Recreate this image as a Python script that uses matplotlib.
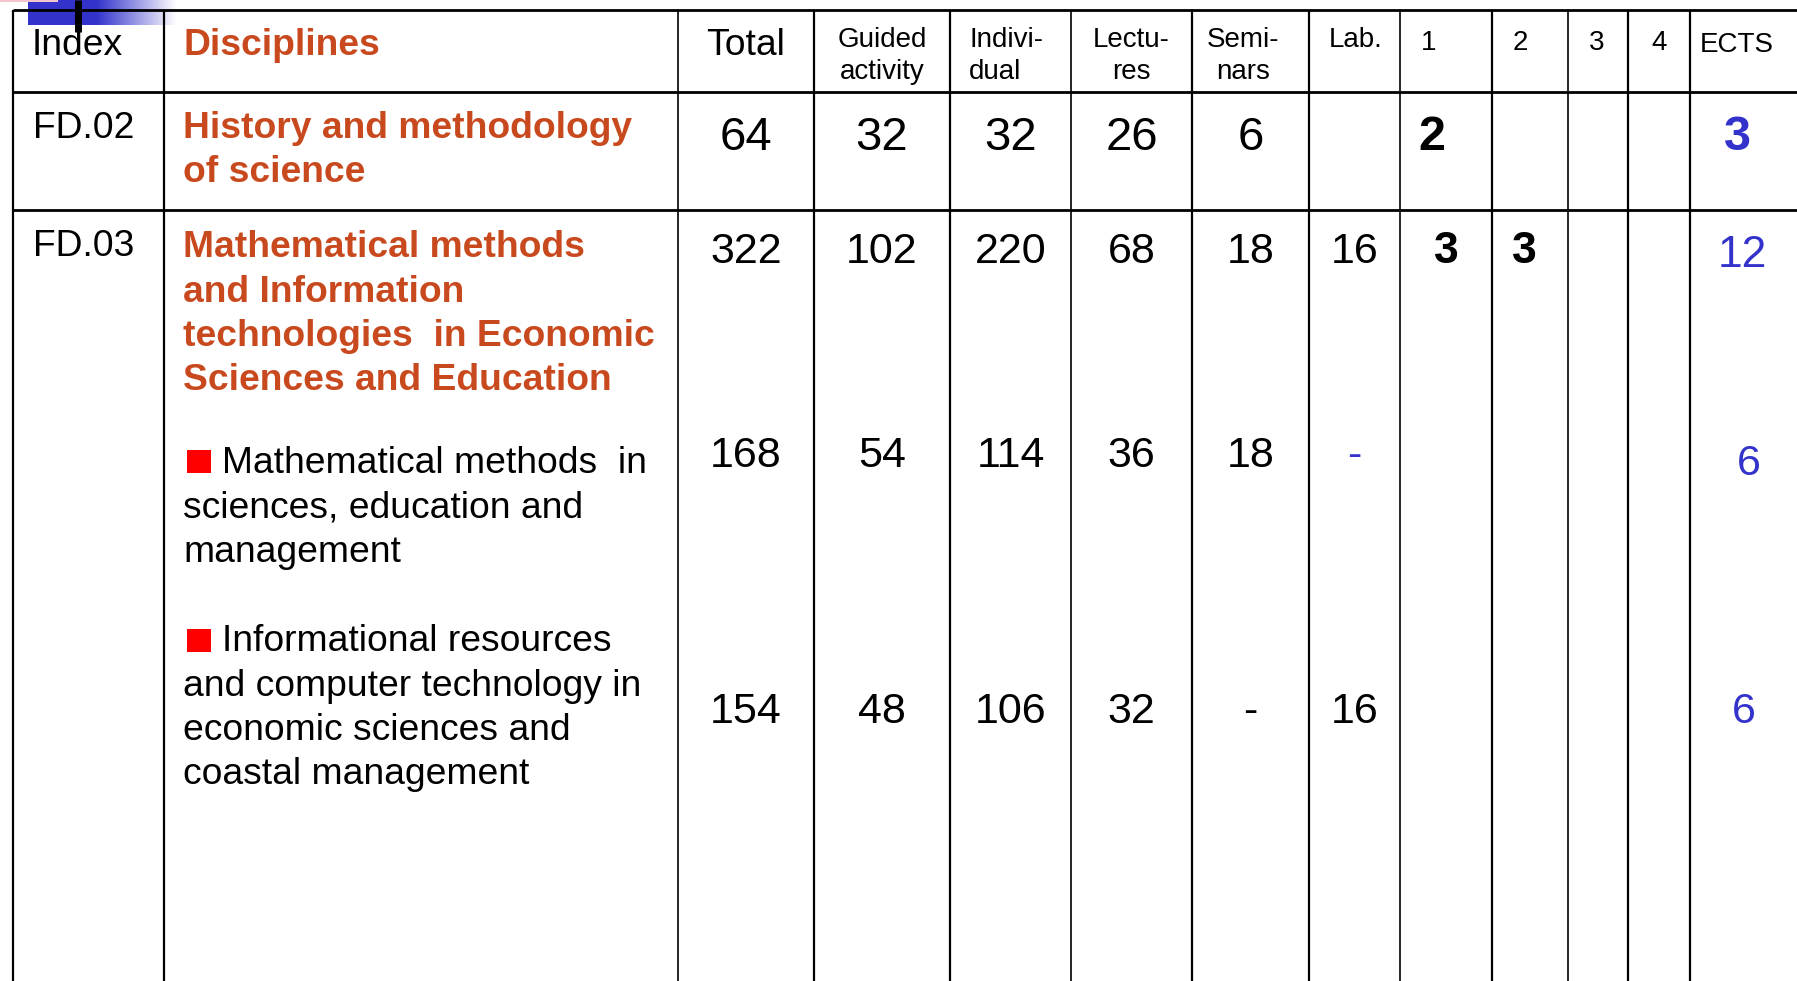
import matplotlib.pyplot as plt
import numpy as np

plt.rcParams['font.family'] = ['Liberation Sans', 'DejaVu Sans']

# Datos de la tabla
codes = ["FD.02", "FD.03"]
titles = [["History and methodology", "of science"],
          ["Mathematical methods", "and Information",
           "technologies  in Economic", "Sciences and Education"]]
subjects = [["Mathematical methods  in", "sciences, education and", "management"],
            ["Informational resources", "and computer technology in",
             "economic sciences and", "coastal management"]]

# filas: FD.02, FD.03, sub 1, sub 2
total = ["64", "322", "168", "154"]
guided = ["32", "102", "54", "48"]
individual = ["32", "220", "114", "106"]
lectures = ["26", "68", "36", "32"]
seminars = ["6", "18", "18", "-"]
lab = ["", "16", "-", "16"]
sem1 = ["2", "3", "", ""]
sem2 = ["", "3", "", ""]
ects = ["3", "12", "6", "6"]

ORANGE = '#C9491E'
BLUE = '#3333CC'

# bordes de columnas (pixeles)
col_x = [13, 164, 678, 814, 950, 1071, 1192, 1309, 1400, 1492, 1568, 1628, 1690, 1797]
centers = [(col_x[i] + col_x[i + 1]) / 2 for i in range(len(col_x) - 1)]

fig = plt.figure(figsize=(17.97, 9.81), dpi=100)
ax = fig.add_axes([0, 0, 1, 1])
ax.set_xlim(0, 1797)
ax.set_ylim(981, 0)
ax.axis('off')

# decoracion arriba a la izquierda
grad = np.ones((1, 200, 4))
grad[0, :, 0] = 0.2
grad[0, :, 1] = 0.2
grad[0, :, 2] = 0.8
alpha = np.clip((177 - np.linspace(28, 177, 200)) / 80, 0, 1)
grad[0, :, 3] = alpha
ax.imshow(grad, extent=[28, 177, 25, 0], aspect='auto', zorder=1)
ax.add_patch(plt.Rectangle((0, 0), 58, 2, color='#F4C4CC', lw=0, zorder=1))
ax.plot([77.5, 77.5], [0, 32], color='black', lw=5, solid_capstyle='butt', zorder=3)

# lineas de la tabla
for i, x in enumerate(col_x[:-1]):
    lw = 1.6 if i in (0, 1, 3, 4, 6, 7, 9, 11, 12) else 1.2
    ax.plot([x, x], [10, 981], color='black', lw=lw, solid_capstyle='butt', zorder=2)
for y in (10, 92, 210):
    ax.plot([col_x[0], 1797], [y, y], color='black', lw=2.0, solid_capstyle='butt', zorder=2)

# encabezado
def txt(x, y, s, size, ha='left', color='black', weight='normal'):
    ax.text(x, y, s, fontsize=size, ha=ha, va='baseline', color=color,
            fontweight=weight, zorder=4)

txt(32, 55, "Index", 26.8)
txt(183, 55, "Disciplines", 26.8, color=ORANGE, weight='bold')
txt(centers[2], 55, "Total", 26.8, ha='center')
small = [(["Guided", "activity"], centers[3], 'center', 47),
         (["Indivi-", "dual"], 969, 'left', 47),
         (["Lectu-", "res"], centers[5], 'center', 47),
         (["Semi-", "nars"], 1243, 'center', 47),
         (["Lab."], 1329, 'left', 47),
         (["1"], 1421, 'left', 50),
         (["2"], 1513, 'left', 50),
         (["3"], 1589, 'left', 50),
         (["4"], 1651, 'left', 50),
         (["ECTS"], 1737, 'center', 52)]
for lines, x, ha, y0 in small:
    for k, s in enumerate(lines):
        txt(x, y0 + 32 * k, s, 20, ha=ha)

# codigos y disciplinas
line_h = 44.5
txt(33, 138, codes[0], 26.8)
txt(33, 256, codes[1], 26.8)
for k, s in enumerate(titles[0]):
    txt(183, 138 + line_h * k, s, 26.8, color=ORANGE, weight='bold')
for k, s in enumerate(titles[1]):
    txt(183, 257 + line_h * k, s, 26.8, color=ORANGE, weight='bold')

for first_y, lines, sq_y in ((473, subjects[0], 450), (651, subjects[1], 629)):
    ax.add_patch(plt.Rectangle((187, sq_y), 24, 23, color='#FF0000', lw=0, zorder=4))
    for k, s in enumerate(lines):
        txt(222 if k == 0 else 183, first_y + line_h * k, s, 26.8)

# valores numericos
row_y = [150, 263, 467, 723]
row_size = [34, 31, 31, 31]
for r in range(4):
    for col, vals in ((2, total), (3, guided), (4, individual), (5, lectures),
                      (6, seminars), (7, lab)):
        color = BLUE if (vals is lab and vals[r] == "-") else 'black'
        txt(centers[col], row_y[r], vals[r], row_size[r], ha='center', color=color)
    dx1 = -14 if r == 0 else 0
    txt(centers[8] + dx1, row_y[r], sem1[r], row_size[r] + 1, ha='center', weight='bold')
    txt(centers[9] - 6, row_y[r], sem2[r], row_size[r] + 1, ha='center', weight='bold')

ects_y = [150, 267, 475, 723]
ects_x = [1737, 1742, 1749, 1744]
ects_size = [35, 32, 31, 31]
for r in range(4):
    txt(ects_x[r], ects_y[r], ects[r], ects_size[r], ha='center', color=BLUE,
        weight='bold' if r == 0 else 'normal')

fig.savefig('out.png', dpi=100)
